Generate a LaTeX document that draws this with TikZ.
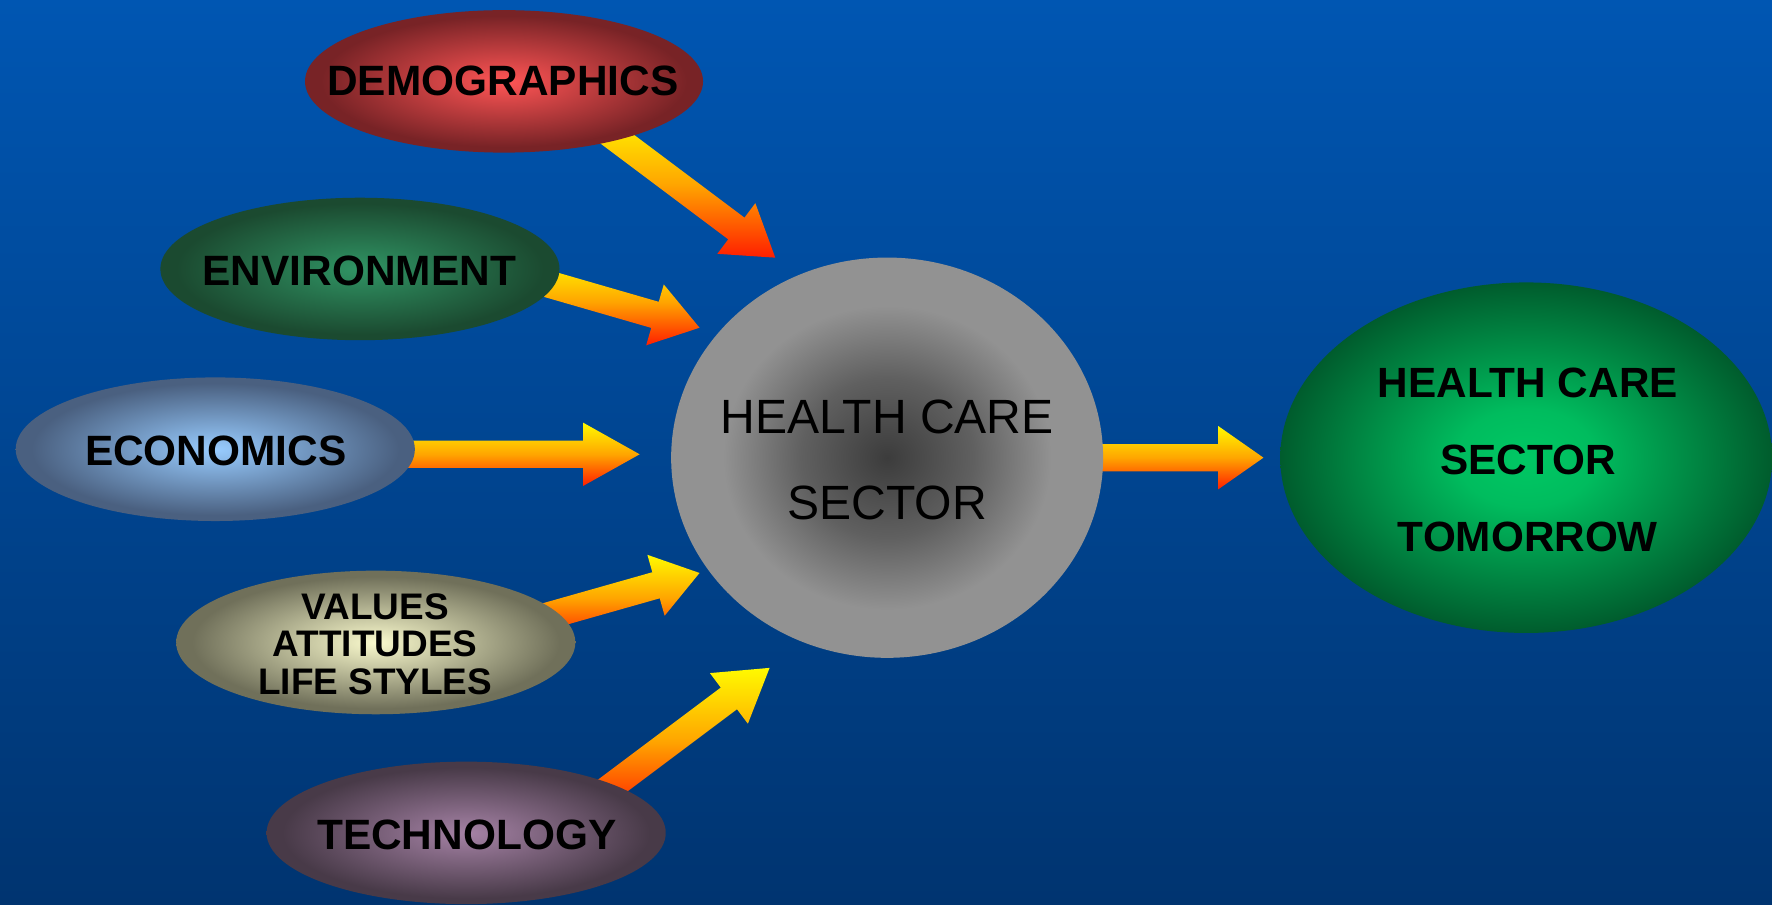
\documentclass[tikz,border=0pt]{standalone}
\usepackage{fontspec}
\setmainfont{Liberation Sans}
\usetikzlibrary{shapes.geometric,calc}
\definecolor{bgtop}{RGB}{0,86,178}
\definecolor{bgbot}{RGB}{0,52,112}
\definecolor{arrtop}{RGB}{255,250,0}
\definecolor{arrmid}{RGB}{255,165,0}
\definecolor{arrbot}{RGB}{255,30,0}
\definecolor{demoin}{RGB}{255,85,85}
\definecolor{demoout}{RGB}{120,35,38}
\definecolor{envin}{RGB}{48,148,100}
\definecolor{envout}{RGB}{27,74,48}
\definecolor{econin}{RGB}{152,204,255}
\definecolor{econout}{RGB}{74,96,128}
\definecolor{valin}{RGB}{250,250,205}
\definecolor{valout}{RGB}{112,112,90}
\definecolor{techin}{RGB}{165,130,165}
\definecolor{techout}{RGB}{72,58,72}
\definecolor{gin}{RGB}{60,60,60}
\definecolor{gmid}{RGB}{96,96,96}
\definecolor{gout}{RGB}{146,146,146}
\definecolor{hin}{RGB}{0,200,100}
\definecolor{hmid}{RGB}{0,188,94}
\definecolor{hout}{RGB}{0,92,45}
\pgfdeclareradialshading{demosh}{\pgfpoint{0bp}{0bp}}{color(0bp)=(demoin); color(23bp)=(demoout); color(50bp)=(demoout)}
\pgfdeclareradialshading{envsh}{\pgfpoint{0bp}{0bp}}{color(0bp)=(envin); color(23bp)=(envout); color(50bp)=(envout)}
\pgfdeclareradialshading{econsh}{\pgfpoint{0bp}{0bp}}{color(0bp)=(econin); color(23bp)=(econout); color(50bp)=(econout)}
\pgfdeclareradialshading{valsh}{\pgfpoint{0bp}{0bp}}{color(0bp)=(valin); color(23bp)=(valout); color(50bp)=(valout)}
\pgfdeclareradialshading{techsh}{\pgfpoint{0bp}{0bp}}{color(0bp)=(techin); color(23bp)=(techout); color(50bp)=(techout)}
\pgfdeclareradialshading{graysh}{\pgfpoint{0bp}{0bp}}{color(0bp)=(gin); color(10bp)=(gmid); color(19bp)=(gout); color(50bp)=(gout)}
\pgfdeclareradialshading{greensh}{\pgfpoint{0bp}{0bp}}{color(0bp)=(hin); color(7bp)=(hmid); color(25bp)=(hout); color(50bp)=(hout)}
\newcommand\blockarrow[3]{%
  \coordinate (#1-b) at ($(#2)!#3!(#1)$);
  \shade[arrowshade] ($(#1)!0.12cm!90:(#2)$) -- ($(#1-b)!0.12cm!90:(#2)$)
    -- ($(#1-b)!0.28cm!90:(#2)$) -- (#2) -- ($(#1-b)!0.28cm!-90:(#2)$)
    -- ($(#1-b)!0.12cm!-90:(#2)$) -- ($(#1)!0.12cm!-90:(#2)$) -- cycle;}
\begin{document}
\begin{tikzpicture}[x=0.01cm,y=-0.01cm,
  blob/.style={ellipse, draw=none, shade, inner sep=0pt, outer sep=0pt},
  lbl/.style={font=\bfseries\fontsize{10.67}{12}\selectfont, text=black, inner sep=0pt, align=center},
  arrowshade/.style={top color=arrtop, bottom color=arrbot, middle color=arrmid}]
\useasboundingbox (0,0) rectangle (1568,800);
\shade[top color=bgtop, bottom color=bgbot] (0,0) rectangle (1568,800);
% arrow coordinates
\coordinate (a1t) at (526,108); \coordinate (a1h) at (686,228);
\coordinate (a2t) at (446,240); \coordinate (a2h) at (619,290);
\coordinate (a3t) at (300,402); \coordinate (a3h) at (566,402);
\coordinate (a4t) at (446,556); \coordinate (a4h) at (619,507);
\coordinate (a5t) at (521,711); \coordinate (a5h) at (681,591);
\coordinate (a6t) at (900,405); \coordinate (a6h) at (1118,405);
\blockarrow{a1t}{a1h}{0.43cm}
\blockarrow{a2t}{a2h}{0.41cm}
\blockarrow{a3t}{a3h}{0.50cm}
\blockarrow{a4t}{a4h}{0.40cm}
\blockarrow{a5t}{a5h}{0.45cm}
\blockarrow{a6t}{a6h}{0.40cm}
% ellipses
\node[blob, shading=demosh, minimum width=3.52cm, minimum height=1.26cm] (demo) at (446,72) {};
\node[blob, shading=envsh, minimum width=3.53cm, minimum height=1.26cm] (env) at (318.5,238) {};
\node[blob, shading=econsh, minimum width=3.53cm, minimum height=1.27cm] (econ) at (190.5,397.5) {};
\node[blob, shading=valsh, minimum width=3.53cm, minimum height=1.27cm] (vals) at (332.5,568.5) {};
\node[blob, shading=techsh, minimum width=3.53cm, minimum height=1.26cm] (tech) at (412.5,737) {};
\node[blob, shading=graysh, minimum width=3.82cm, minimum height=3.54cm] (hcs) at (785,405) {};
\node[blob, shading=greensh, minimum width=4.35cm, minimum height=3.10cm] (hct) at (1350.5,405) {};
% labels
\node[lbl] (demo-l) at (445,72) {DEMOGRAPHICS};
\node[lbl] (env-l) at (318,240) {ENVIRONMENT};
\node[lbl] (econ-l) at (191,399) {ECONOMICS};
\node[lbl, font=\bfseries\fontsize{9.3}{9.39}\selectfont] (vals-l) at (332,570) {VALUES\\ATTITUDES\\LIFE STYLES};
\node[lbl] (tech-l) at (413,739) {TECHNOLOGY};
\node[lbl, font=\fontsize{12.1}{21.6}\selectfont] (hcs-l) at (785,407) {HEALTH CARE\\SECTOR};
\node[lbl, font=\bfseries\fontsize{10.64}{19.35}\selectfont] (hct-l) at (1352,407) {HEALTH CARE\\SECTOR\\TOMORROW};
\end{tikzpicture}
\end{document}
